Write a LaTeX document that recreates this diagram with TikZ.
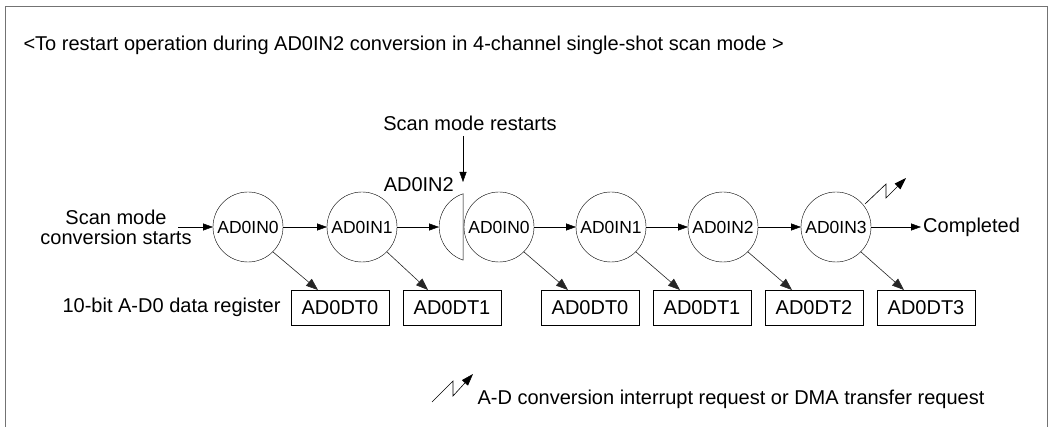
\documentclass[tikz,border=0pt]{standalone}
\usepackage{fontspec}
\setmainfont{Liberation Sans}
\usepackage{tikz}
\usetikzlibrary{arrows.meta,positioning,calc}

\begin{document}
\begin{tikzpicture}[
    x=1pt, y=-1pt,
    every node/.style={font=\fontsize{20}{23}\selectfont},
    chan/.style={circle, draw, minimum size=70pt, inner sep=0pt, outer sep=0pt,
        font=\fontsize{17.5}{20}\selectfont},
    reg/.style={rectangle, draw, minimum width=98pt, minimum height=35pt,
        inner sep=0pt, outer sep=0pt},
    arrow/.style={-{Triangle[length=10pt,width=7pt]}},
    diag/.style={-{Triangle[length=12pt,width=9pt]}, line width=0.6pt, black!85},
    bolt/.style={-{Triangle[length=12pt,width=8pt]}, line width=0.6pt},
    ]
    \useasboundingbox (0,0) rectangle (1049,427);
    % Frame
    \draw[line width=1.5pt, black!55] (5.5,427) |- (1047.5,6.5) -- (1047.5,427);
    \node[anchor=west] (title) at (20,45)
      {<To restart operation during AD0IN2 conversion in 4-channel single-shot scan mode >};
    % Channels
    \node[chan] (in0a) at (248,227) {AD0IN0};
    \node[chan] (in1a) at (362,227) {AD0IN1};
    \node[circle, minimum size=70pt, inner sep=0pt, outer sep=0pt] (cut) at (474,227) {};
    \draw (cut.108.3) arc[start angle=108.3, end angle=251.7, radius=35pt] -- cycle;
    \node[chan] (in0b) at (499,227) {AD0IN0};
    \node[chan] (in1b) at (611,227) {AD0IN1};
    \node[chan] (in2b) at (723,227) {AD0IN2};
    \node[chan] (in3b) at (836,227) {AD0IN3};
    % Registers
    \node[anchor=east] (reglbl) at (284,307.5) {10-bit A-D0 data register};
    \node[reg] (dt0a) at (340,307.5) {AD0DT0};
    \node[reg] (dt1a) at (452,307.5) {AD0DT1};
    \node[reg] (dt0b) at (590,307.5) {AD0DT0};
    \node[reg] (dt1b) at (702,307.5) {AD0DT1};
    \node[reg] (dt2b) at (814,307.5) {AD0DT2};
    \node[reg] (dt3b) at (926,307.5) {AD0DT3};
    % Labels
    \node[align=center] (start) at (116,227) {Scan mode\\[-3pt]conversion starts};
    \coordinate (go) at (178,227);
    \node[anchor=west, inner sep=2pt] (done) at (921,227) {Completed};
    \node (restart) at (470,123) {Scan mode restarts};
    \coordinate (rs) at (463,182);
    \node[anchor=east, inner sep=1pt] (in2lbl) at (455,185) {AD0IN2};
    % Arrows
    \draw[arrow] (go) -- (in0a);
    \draw[arrow] (in0a) -- (in1a);
    \draw[arrow] (in1a) -- (cut.west);
    \draw[arrow] (in0b) -- (in1b);
    \draw[arrow] (in1b) -- (in2b);
    \draw[arrow] (in2b) -- (in3b);
    \draw[arrow] (in3b) -- (done);
    \draw[arrow] (restart.south -| rs) ++(0,2) -- (rs);
    \draw[diag] (in0a.-45) -- ([xshift=-22pt]dt0a.north);
    \draw[diag] (in1a.-45) -- ([xshift=-24pt]dt1a.north);
    \draw[diag] (in0b.-45) -- ([xshift=-22pt]dt0b.north);
    \draw[diag] (in1b.-45) -- ([xshift=-22pt]dt1b.north);
    \draw[diag] (in2b.-45) -- ([xshift=-22pt]dt2b.north);
    \draw[diag] (in3b.-45) -- ([xshift=-22pt]dt3b.north);
    % Interrupt request
    \coordinate (irq) at (865,204);
    \draw[bolt] (irq) -- ++(21,-20) -- ++(0,14) -- ++(20,-20);
    % Legend
    \coordinate (lg) at (432,402);
    \draw[bolt] (lg) -- ++(21,-21) -- ++(0,15) -- ++(20,-22);
    \node[anchor=west] (lgtxt) at (474,399)
      {A-D conversion interrupt request or DMA transfer request};
\end{tikzpicture}
\end{document}
